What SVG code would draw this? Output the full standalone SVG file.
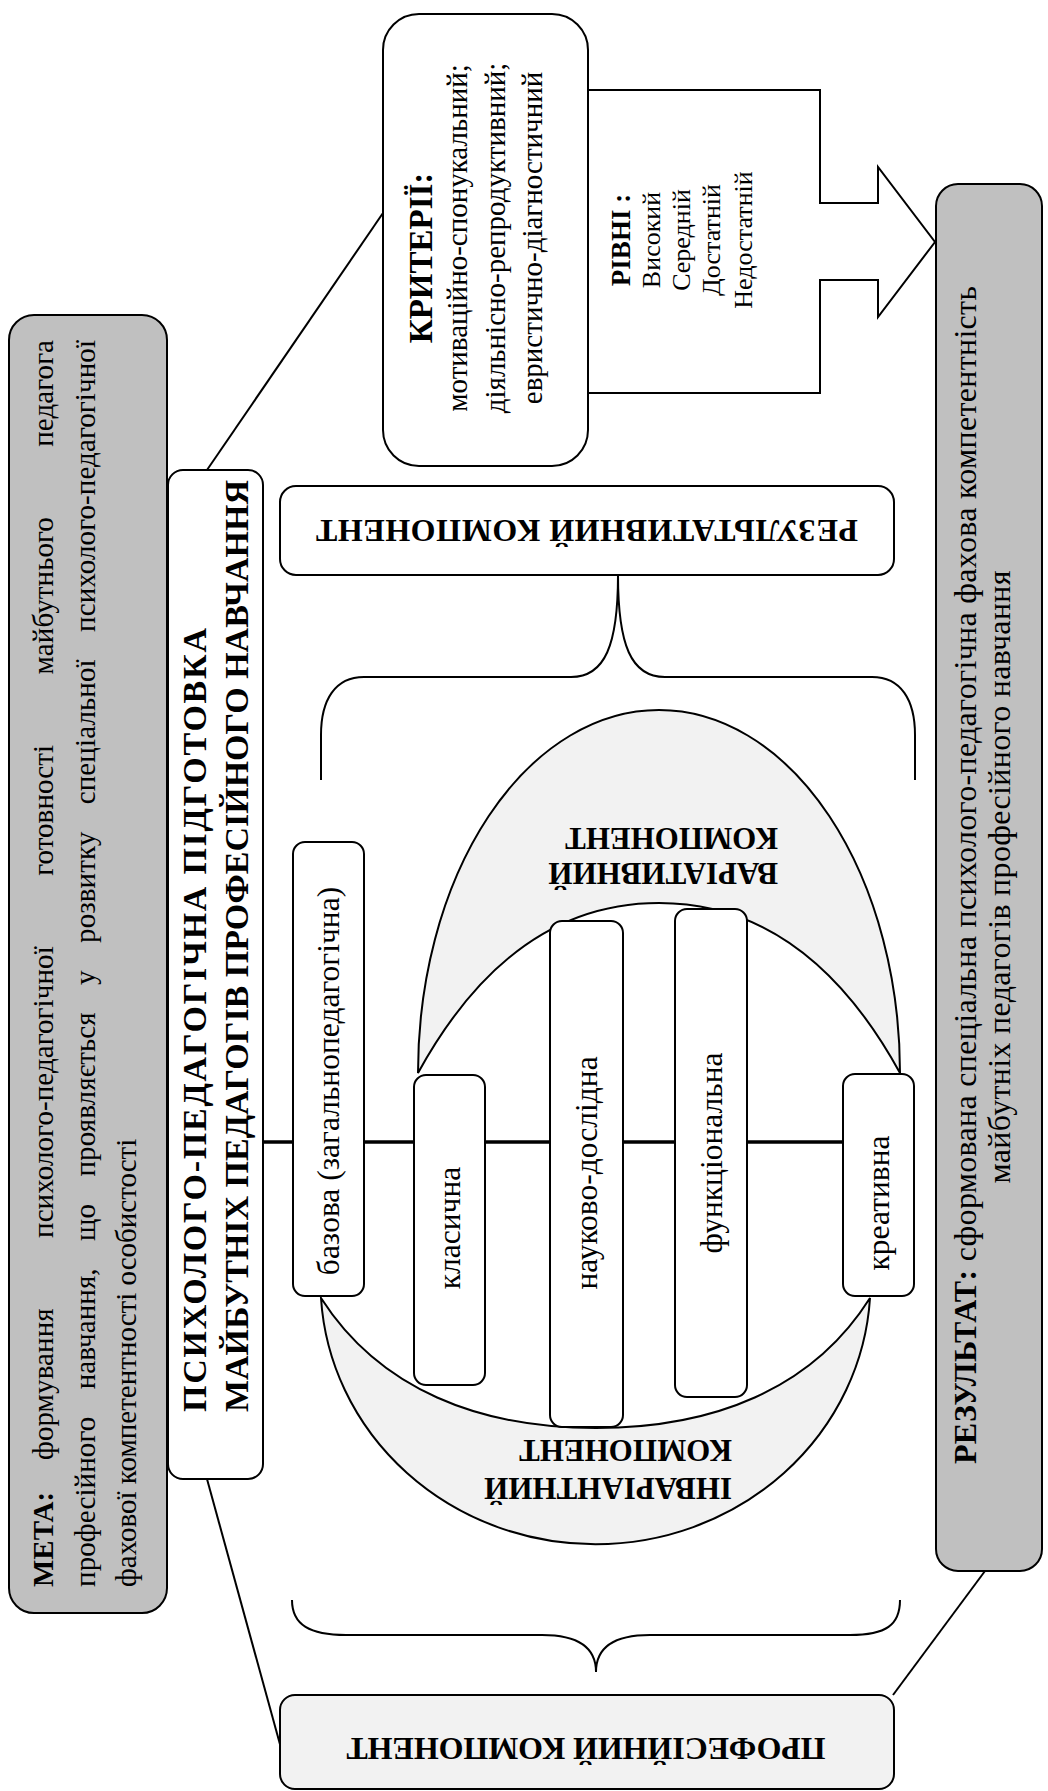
<svg xmlns="http://www.w3.org/2000/svg" width="1048" height="1791" viewBox="0 0 1048 1791">
<style>
  .ln{fill:none;stroke:#000;stroke-width:2}
  .bx{stroke:#000;stroke-width:2}
  .w{fill:#fff}
  .g1{fill:#c0c0c0}
  .g2{fill:#f2f2f2}
  text{font-family:"Liberation Serif","Times New Roman",serif;fill:#000}
  .r{font-size:29px}
  .v{font-size:31.5px}
  .s{font-size:26px}
  .h{font-weight:bold}
</style>
<rect width="1048" height="1791" fill="#fff"/>

<!-- connectors: lines, braces and the block arrow -->
<g id="connectors">
  <line class="ln" x1="207" y1="470" x2="383" y2="213"/>
  <line class="ln" x1="207" y1="1479" x2="281" y2="1748"/>
  <line class="ln" x1="985" y1="1571" x2="893" y2="1695"/>
  <path class="ln" d="M618,575 C618,645 605,677 571,677 L364,677 C335,677 321,700 321,735 L321,780 M618,575 C618,645 631,677 665,677 L872,677 C901,677 915,700 915,735 L915,780"/>
  <path class="ln" d="M292,1600 C292,1625 310,1635 346,1635 L542,1635 C575,1635 596,1645 596,1672 C596,1645 617,1635 650,1635 L850,1635 C886,1635 900,1625 900,1600"/>
</g>

<!-- component crescents -->
<g id="variative">
  <path class="bx g2" d="M418,1073 A241,363 0 0 1 900,1073 C838,960 758,903 659,903 C560,903 480,960 418,1073 Z"/>
  <g class="h" font-size="31">
    <text transform="rotate(180)" x="-778" y="-863">ВАРІАТИВНИЙ</text>
    <text transform="rotate(180)" x="-778" y="-828">КОМПОНЕНТ</text>
  </g>
</g>
<g id="invariant">
  <path class="bx g2" d="M321,1298 A275,262 0 0 0 870,1298 C812,1390 712,1428 596,1428 C480,1428 380,1390 321,1298 Z"/>
  <g class="h" font-size="31">
    <text transform="rotate(180)" x="-732" y="-1478">ІНВАРІАНТНИЙ</text>
    <text transform="rotate(180)" x="-732" y="-1440">КОМПОНЕНТ</text>
  </g>
</g>

<g id="axis">
  <line x1="263" y1="1142" x2="843" y2="1142" stroke="#000" stroke-width="3.5"/>
</g>

<g id="meta">
  <rect class="bx g1" x="9" y="315" width="158" height="1298" rx="25"/>
  <g class="r">
    <text class="h" transform="rotate(-90)" x="-1587" y="53">МЕТА:</text>
    <text transform="rotate(-90)" x="-1460" y="53" word-spacing="63" textLength="1120" lengthAdjust="spacing">формування психолого-педагогічної готовності майбутнього педагога</text>
    <text transform="rotate(-90)" x="-1587" y="95" word-spacing="20" textLength="1247" lengthAdjust="spacing">професійного навчання, що проявляється у розвитку спеціальної психолого-педагогічної</text>
    <text transform="rotate(-90)" x="-1587" y="136">фахової компетентності особистості</text>
  </g>
</g>

<g id="title">
  <rect class="bx w" x="168" y="470" width="95" height="1009" rx="15"/>
  <g class="h" font-size="34">
    <text transform="rotate(-90)" x="-1412" y="206" textLength="784" lengthAdjust="spacing">ПСИХОЛОГО-ПЕДАГОГІЧНА ПІДГОТОВКА</text>
    <text transform="rotate(-90)" x="-1412" y="248" textLength="932" lengthAdjust="spacing">МАЙБУТНІХ ПЕДАГОГІВ ПРОФЕСІЙНОГО НАВЧАННЯ</text>
  </g>
</g>

<g id="criteria">
  <rect class="bx w" x="383" y="14" width="205" height="452" rx="36"/>
  <g text-anchor="middle">
    <text class="h" font-size="33" transform="rotate(-90)" x="-258" y="432">КРИТЕРІЇ:</text>
    <text class="r" transform="rotate(-90)" x="-238" y="467">мотиваційно-спонукальний;</text>
    <text class="r" transform="rotate(-90)" x="-238" y="505">діяльнісно-репродуктивний;</text>
    <text class="r" transform="rotate(-90)" x="-238" y="542">евристично-діагностичний</text>
  </g>
</g>

<g id="levels">
  <path class="ln" d="M588,90 L820,90 L820,203 L878,203 L878,167 L935,242 L878,317 L878,280 L820,280 L820,393 L588,393"/>
  <g text-anchor="middle">
    <text class="h" font-size="27" transform="rotate(-90)" x="-240" y="630">РІВНІ :</text>
    <text class="s" transform="rotate(-90)" x="-240" y="660">Високий</text>
    <text class="s" transform="rotate(-90)" x="-240" y="690">Середній</text>
    <text class="s" transform="rotate(-90)" x="-240" y="720">Достатній</text>
    <text class="s" transform="rotate(-90)" x="-240" y="752">Недостатній</text>
  </g>
</g>

<g id="result">
  <rect class="bx g1" x="936" y="184" width="106" height="1387" rx="22"/>
  <g font-size="32" text-anchor="middle">
    <text transform="rotate(-90)" x="-875" y="976" textLength="1178" lengthAdjust="spacing"><tspan class="h">РЕЗУЛЬТАТ:</tspan> сформована спеціальна психолого-педагогічна фахова компетентність</text>
    <text transform="rotate(-90)" x="-877" y="1010" textLength="613" lengthAdjust="spacing">майбутніх педагогів професійного навчання</text>
  </g>
</g>

<g id="result-component">
  <rect class="bx w" x="280" y="486" width="614" height="89" rx="16"/>
  <text class="h" font-size="32" text-anchor="middle" transform="rotate(180)" x="-587" y="-520" textLength="542" lengthAdjust="spacing">РЕЗУЛЬТАТИВНИЙ КОМПОНЕНТ</text>
</g>

<g id="professional-component">
  <rect class="bx g2" x="280" y="1695" width="614" height="94" rx="15"/>
  <text class="h" font-size="32" text-anchor="middle" transform="rotate(180)" x="-586" y="-1738" textLength="479" lengthAdjust="spacing">ПРОФЕСІЙНИЙ КОМПОНЕНТ</text>
</g>

<g id="basic">
  <rect class="bx w" x="293" y="842" width="71" height="454" rx="12"/>
  <text class="v" text-anchor="middle" transform="rotate(-90)" x="-1081" y="339">базова (загальнопедагогічна)</text>
</g>
<g id="classic">
  <rect class="bx w" x="414" y="1075" width="71" height="310" rx="12"/>
  <text class="v" text-anchor="middle" transform="rotate(-90)" x="-1228" y="460">класична</text>
</g>
<g id="research">
  <rect class="bx w" x="550" y="921" width="73" height="506" rx="12"/>
  <text class="v" text-anchor="middle" transform="rotate(-90)" x="-1173" y="597">науково-дослідна</text>
</g>
<g id="functional">
  <rect class="bx w" x="675" y="909" width="72" height="488" rx="12"/>
  <text class="v" text-anchor="middle" transform="rotate(-90)" x="-1153" y="722">функціональна</text>
</g>
<g id="creative">
  <rect class="bx w" x="843" y="1074" width="71" height="222" rx="12"/>
  <text class="v" text-anchor="middle" transform="rotate(-90)" x="-1203" y="889">креативна</text>
</g>
</svg>
